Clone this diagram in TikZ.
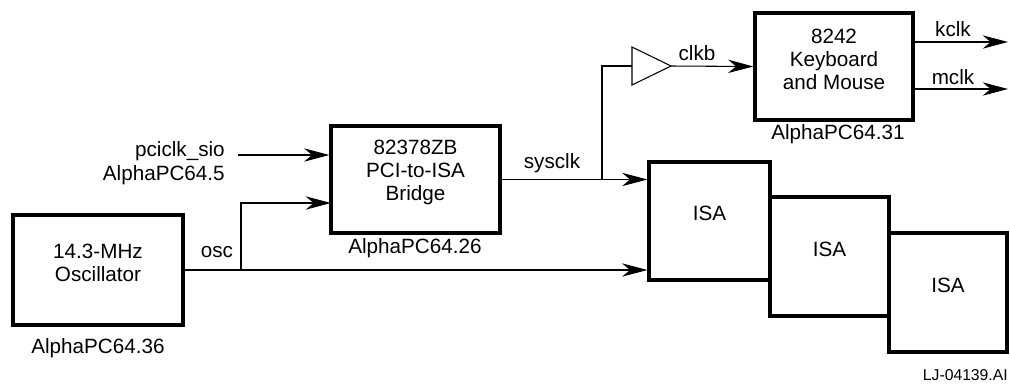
\documentclass[tikz,border=0pt]{standalone}
\usepackage{fontspec}
\setmainfont{Liberation Sans}
\usetikzlibrary{arrows.meta,fit}
\begin{document}
\begin{tikzpicture}[x=0.75pt,y=-0.75pt,
  box/.style={draw,line width=2.4pt,inner sep=0pt,align=center,font=\fontsize{15.5}{17.5}\selectfont},
  lbl/.style={font=\fontsize{15.5}{17.5}\selectfont,inner sep=0pt},
  wire/.style={line width=0.8pt},
  arr/.style={wire,-{Stealth[length=19pt,width=10pt,inset=6pt]}}]
\useasboundingbox (0,0) rectangle (1010,383);
% boxes
\node[box,fit={(13,215)(183,325)}] (osc) {14.3-MHz\\Oscillator};
\node[box,fit={(331,126)(500,233)}] (bridge) {82378ZB\\PCI-to-ISA\\Bridge};
\node[box,fit={(755,13)(913,120)}] (kb) {8242\\Keyboard\\and Mouse};
\node[box,fit={(649,162)(770,280)}] (isa1) {ISA};
\node[box,fit={(770,197)(889,316)}] (isa2) {ISA};
\node[box,fit={(889,233)(1007,352)}] (isa3) {ISA};
% labels
\node[lbl] (oscl) at (98,348) {AlphaPC64.36};
\node[lbl] (bridgel) at (415,248) {AlphaPC64.26};
\node[lbl] (kbl) at (838,134) {AlphaPC64.31};
\node[lbl,anchor=east,align=right] (pcil) at (225,163) {pciclk\_sio\\AlphaPC64.5};
\node[lbl] (oscw) at (217,252) {osc};
\node[lbl] (sysw) at (552,163) {sysclk};
\node[lbl] (clkbw) at (697,53) {clkb};
\node[lbl] (kclkw) at (953,29) {kclk};
\node[lbl] (mclkw) at (953,77) {mclk};
\node[inner sep=0pt,anchor=east,font=\fontsize{11.8}{13}\selectfont] (lj) at (1008,375) {LJ-04139.AI};
% buffer
\coordinate (bufin) at (632,66);
\coordinate (bufout) at (671,66);
\draw[wire] (632,47) -- (bufout) -- (632,85) -- cycle;
% coordinates
\coordinate (pcistart) at (238,155);
\coordinate (b1) at (241,270);
\coordinate (oscin) at (331,203);
\coordinate (b2) at (602,180);
\coordinate (kout1) at (1008,42);
\coordinate (kout2) at (1008,89);
% connectors
\draw[arr] (pcistart) -- (pcistart -| bridge.west);
\draw[arr] (osc.east) -- (osc.east -| isa1.west);
\draw[arr] (b1) |- (oscin);
\draw[arr] (bridge.east) -- (bridge.east -| isa1.west);
\draw[wire] (b2) |- (bufin);
\draw[arr] (bufout) -- (kb.west);
\draw[arr] (kout1 -| kb.east) -- (kout1);
\draw[arr] (kout2 -| kb.east) -- (kout2);
\end{tikzpicture}
\end{document}
